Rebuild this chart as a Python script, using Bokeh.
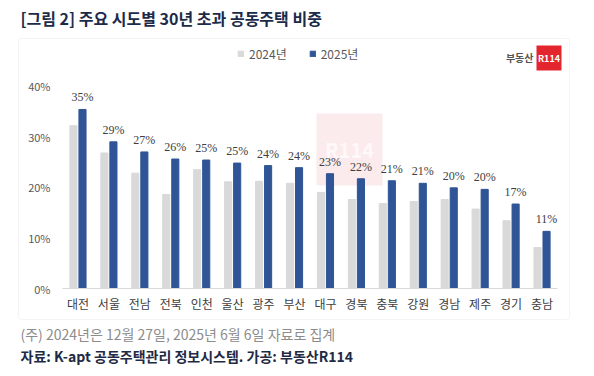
from bokeh.plotting import figure
from bokeh.models import (ColumnDataSource, LabelSet, Label, BoxAnnotation, LinearAxis,
                          FixedTicker, PrintfTickFormatter, Legend, LegendItem, Range1d)
from bokeh.transform import dodge
from bokeh.embed import file_html
from bokeh.resources import INLINE

regions = ["대전", "서울", "전남", "전북", "인천", "울산", "광주", "부산",
           "대구", "경북", "충북", "강원", "경남", "제주", "경기", "충남"]
v2024 = [32.2, 26.8, 22.8, 18.6, 23.5, 21.1, 21.2, 20.8,
         19.0, 17.6, 16.8, 17.2, 17.6, 15.7, 13.4, 8.1]
v2025 = [35.4, 29.0, 27.0, 25.6, 25.4, 24.8, 24.3, 23.9,
         22.7, 21.7, 21.3, 20.8, 19.9, 19.6, 16.7, 11.3]
y_ticks = [0, 10, 20, 30, 40]
series_names = ["2024년", "2025년"]

W, H = 594, 376
KR = "Noto Sans CJK KR"

idx = list(range(len(regions)))
src = ColumnDataSource(dict(
    idx=idx, a=v2024, b=v2025,
    lab=[f"{round(v)}%" for v in v2025],
))

# plot-area geometry (pixels on the canvas, top-left origin)
AX_LEFT, AX_RIGHT, AX_ZERO, AX_40 = 62, 557, 288, 85.7
cat_w = (AX_RIGHT - AX_LEFT) / len(regions)
c0 = AX_LEFT + cat_w / 2
x_start = (0 - c0) / cat_w
x_end = (W - c0) / cat_w
ppu = (AX_ZERO - AX_40) / 40.0
y_start = -(H - AX_ZERO) / ppu
y_end = AX_ZERO / ppu

p = figure(width=W, height=H, x_range=Range1d(x_start, x_end),
           y_range=Range1d(y_start, y_end), output_backend="svg", toolbar_location=None,
           x_axis_location=None, y_axis_location=None,
           min_border=0, min_border_left=0, min_border_right=0,
           min_border_top=0, min_border_bottom=0)
p.outline_line_color = None
p.background_fill_color = "white"
p.border_fill_color = "white"
p.grid.grid_line_color = None

# screen coords: frame == canvas, y upward from bottom
def sx(x):
    return x

def sy(y_top):
    return H - y_top

def box(l, r, t, b, **kw):
    p.add_layout(BoxAnnotation(left=sx(l), right=sx(r), top=sy(t), bottom=sy(b),
                               left_units="screen", right_units="screen",
                               top_units="screen", bottom_units="screen", **kw))

# outer frame box
box(18, 569, 38, 319, fill_color=None, line_color="#dcdcdc", line_width=1,
    border_radius=3, level="underlay")
# watermark
box(316, 382, 113, 185, fill_color="#fcebec", fill_alpha=1, line_color=None, level="underlay")

r1 = p.vbar(x=dodge("idx", -0.146), top="a", width=0.23, source=src, color="#d9d9d9")
r2 = p.vbar(x=dodge("idx", 0.146), top="b", width=0.23, source=src, color="#2f5597")

p.add_layout(LabelSet(x=dodge("idx", 0.146), y="b", text="lab",
                      source=src, text_align="center", text_baseline="alphabetic",
                      y_offset=8, text_font=KR, text_font_size="12px",
                      text_color="#404040"))

xaxis = LinearAxis(fixed_location=0, bounds=(-0.5, len(regions) - 0.5),
                   ticker=FixedTicker(ticks=idx),
                   major_label_overrides={i: r for i, r in enumerate(regions)})
xaxis.axis_line_color = "#d9d9d9"
xaxis.major_tick_line_color = None
xaxis.minor_tick_line_color = None
xaxis.major_label_text_font = KR
xaxis.major_label_text_font_size = "12px"
xaxis.major_label_text_color = "#404040"
xaxis.major_label_standoff = 0
p.add_layout(xaxis, "below")

yaxis = LinearAxis(fixed_location=-0.5, ticker=FixedTicker(ticks=y_ticks),
                   formatter=PrintfTickFormatter(format="%d%%"))
yaxis.axis_line_color = None
yaxis.major_tick_line_color = None
yaxis.minor_tick_line_color = None
yaxis.major_label_text_font = KR
yaxis.major_label_text_font_size = "11px"
yaxis.major_label_text_color = "#595959"
yaxis.major_label_standoff = 6
p.add_layout(yaxis, "left")

legend = Legend(items=[LegendItem(label=series_names[0], renderers=[r1]),
                       LegendItem(label=series_names[1], renderers=[r2])],
                orientation="horizontal", location=(237, 314),
                glyph_width=7, glyph_height=7, label_standoff=5, spacing=22,
                padding=0, margin=0, border_line_color=None,
                background_fill_alpha=0,
                label_text_font=KR, label_text_font_size="12px",
                label_text_color="#595959")
p.add_layout(legend, "center")

def lab(x, y_top, text, size, color, bold=False, align="left", base="middle", alpha=1.0):
    p.add_layout(Label(x=sx(x), y=sy(y_top), x_units="screen", y_units="screen",
                       text=text, text_font=KR, text_font_size=size,
                       text_color=color, text_align=align, text_baseline=base,
                       text_font_style="bold" if bold else "normal",
                       text_alpha=alpha))

lab(20, 17, "[그림 2] 주요 시도별 30년 초과 공동주택 비중", "16px", "#1c2b4a", bold=True)
lab(20, 333, "(주) 2024년은 12월 27일, 2025년 6월 6일 자료로 집계", "14px", "#8c8c8c")
lab(20, 355, "자료: K-apt 공동주택관리 정보시스템. 가공: 부동산R114", "14px", "#1f2a44", bold=True)

# logo
box(536, 561, 45, 70, fill_color="#e3262e", fill_alpha=1, line_color=None)
lab(533, 57, "부동산", "10px", "#555555", bold=True, align="right")
lab(548.5, 58, "R114", "9px", "white", bold=True, align="center")
lab(349, 149, "R114", "20px", "white", bold=True, align="center", alpha=0.7)

open("out.html", "w").write(file_html(p, INLINE))
